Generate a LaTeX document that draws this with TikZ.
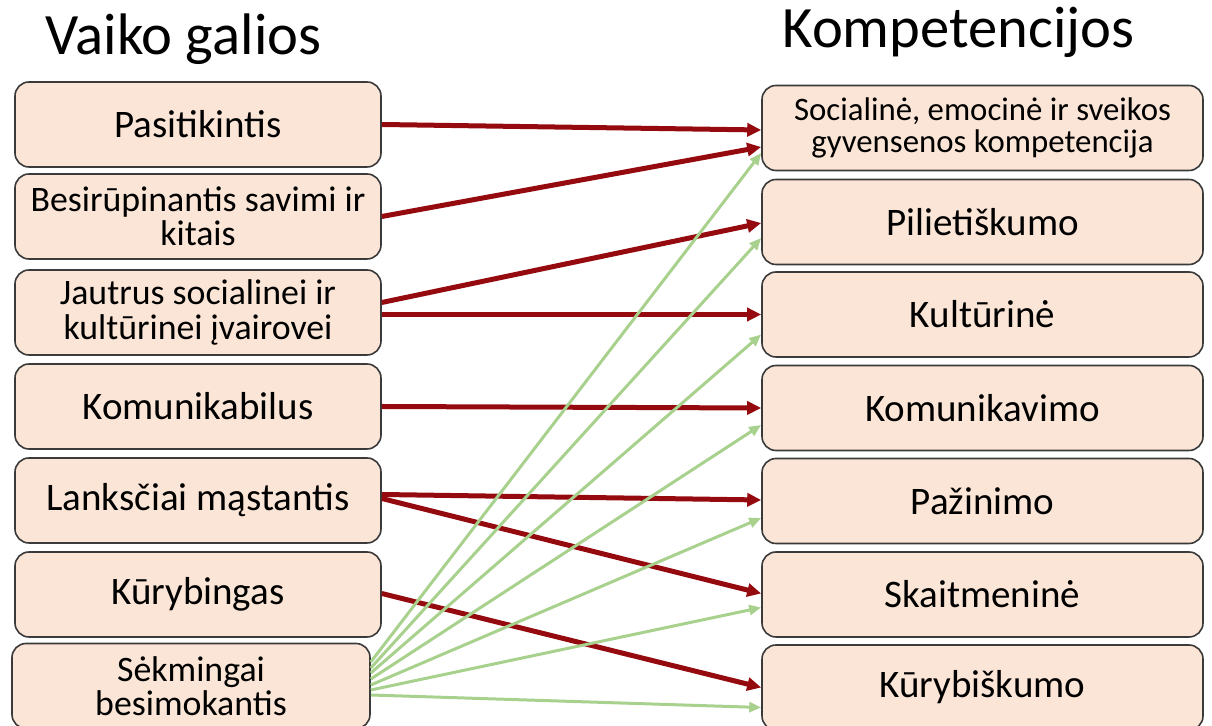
\documentclass[tikz,border=0pt]{standalone}
\usepackage{fontspec}
\setmainfont{Carlito}
\usetikzlibrary{arrows.meta,calc}
\definecolor{boxfill}{HTML}{FBE5D6}
\definecolor{boxline}{HTML}{3A3A3A}
\definecolor{raudona}{HTML}{950A0F}
\definecolor{zalia}{HTML}{A9D18E}

\begin{document}
\begin{tikzpicture} [x = 0.5pt, y = -0.5pt,
galia/.style = {draw = boxline, line width = 0.8pt, fill = boxfill, rounded corners = 7pt, minimum width = 183pt, minimum height = 42.5pt, inner sep = 2pt, align = center, font = \fontsize{19.5}{19.5}\selectfont},
komp/.style = {galia, minimum width = 220.5pt},
dvi/.style = {font = \fontsize{17.9}{17.2}\selectfont},
antraste/.style = {anchor = base, font = \fontsize{29.3}{29.3}\selectfont},
rarrow/.style = {raudona, line width = 2.5pt, -{Triangle[length = 7pt, width = 6.5pt]}},
zarrow/.style = {zalia, line width = 1.5pt, -{Triangle[length = 6pt, width = 5pt]}}]
\useasboundingbox (0, 0) rectangle (1212, 726);
\node[antraste] (vg) at (183.5, 55){Vaiko galios};
\node[antraste] (kp) at (958.5, 48){Kompetencijos};
\node[galia] (pas) at (198, 124.5){Pasitikintis};
\node[galia, dvi] (bes) at (198, 216.5){Besirūpinantis savimi ir\\kitais};
\node[galia, dvi] (jau) at (198, 312.5){Jautrus socialinei ir\\kultūrinei įvairovei};
\node[galia] (kom) at (198, 406.5){Komunikabilus};
\node[galia] (lan) at (198, 500.5){Lanksčiai mąstantis};
\node[galia] (kur) at (198, 594.5){Kūrybingas};
\node[galia, dvi, minimum width = 179pt] (sek) at (191, 686){Sėkmingai\\besimokantis};
\node[komp, font = \fontsize{16.4}{15.6}\selectfont] (soc) at (982.5, 128){Socialinė, emocinė ir sveikos\\gyvensenos kompetencija};
\node[komp] (pil) at (982.5, 222){Pilietiškumo};
\node[komp] (kul) at (982.5, 314.5){Kultūrinė};
\node[komp] (kmv) at (982.5, 408){Komunikavimo};
\node[komp] (paz) at (982.5, 501){Pažinimo};
\node[komp] (ska) at (982.5, 594.5){Skaitmeninė};
\node[komp] (kub) at (982.5, 687.5){Kūrybiškumo};
\draw[rarrow] (pas.east) -- ($(soc.west) + (0, 2)$);
\draw[rarrow] (bes.east) -- ($(soc.west) + (0, 19)$);
\draw[rarrow] ($(jau.east) + (0, -10)$) -- ($(pil.west) + (0, 1)$);
\draw[rarrow] ($(jau.east) + (0, 2)$) -- (kul.west);
\draw[rarrow] (kom.east) -- (kmv.west);
\draw[rarrow] ($(lan.east) + (0, -6)$) -- ($(paz.west) + (0, -1)$);
\draw[rarrow] ($(lan.east) + (0, -2)$) -- ($(ska.west) + (0, -1)$);
\draw[rarrow] ($(kur.east) + (0, -1)$) -- (kub.west);
\foreach \a/\b/\c in {-24/soc/25, -18/pil/16, -13/kul/20, -7/kmv/17, -1/paz/17, 4/ska/13, 9/kub/20}
  \draw[zarrow] ($(sek.east) + (0, \a)$) -- ($(\b.west) + (0, \c)$);
\end{tikzpicture}
\end{document}
